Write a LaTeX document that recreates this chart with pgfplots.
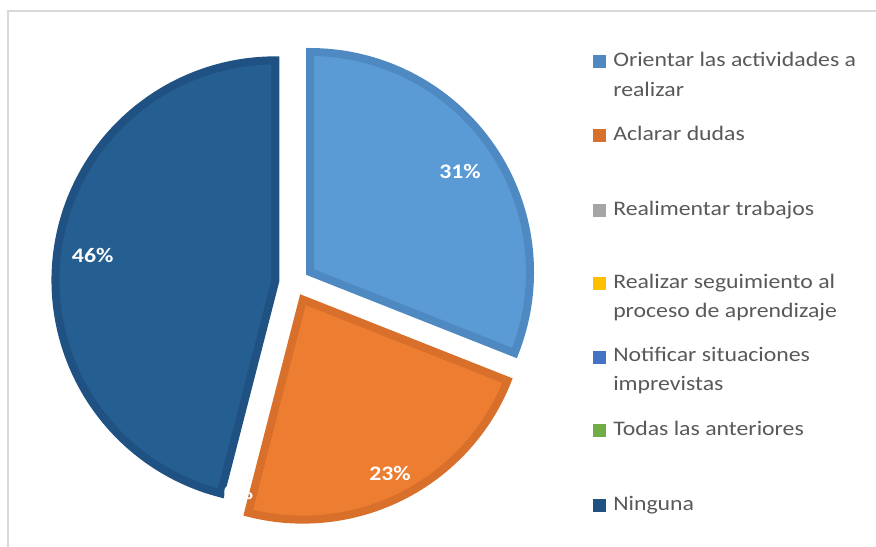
\documentclass[border=0pt]{standalone}
\usepackage{pgfplots}
\usepackage{pgfplotstable}
\pgfplotsset{compat=1.18}
\usepackage{fontspec}
\setmainfont{Carlito}[FakeStretch=1.15]
\definecolor{lbfill}{HTML}{5B9BD5}
\definecolor{lbedge}{HTML}{4F89C2}
\definecolor{orfill}{HTML}{ED7D31}
\definecolor{oredge}{HTML}{D8702C}
\definecolor{dbfill}{HTML}{255E91}
\definecolor{dbedge}{HTML}{1F5182}
\definecolor{grsw}{HTML}{A5A5A5}
\definecolor{yesw}{HTML}{FFC000}
\definecolor{blsw}{HTML}{4472C4}
\definecolor{gnsw}{HTML}{70AD47}
\definecolor{txt}{HTML}{595959}
\definecolor{frame}{HTML}{D9D9D9}

\pgfplotstableread{
label value
Orientar 31
Aclarar 23
Realimentar 0
Seguimiento 0
Notificar 0
Todas 0
Ninguna 46
}\piedata

\begin{document}
\begin{tikzpicture}
\pgfplotstablegetelem{0}{value}\of\piedata \let\vA\pgfplotsretval
\pgfplotstablegetelem{1}{value}\of\piedata \let\vB\pgfplotsretval
\pgfplotstablegetelem{6}{value}\of\piedata \let\vG\pgfplotsretval
% angles (start at 12 o'clock, clockwise)
\pgfmathsetmacro{\aA}{90-3.6*\vA}
\pgfmathsetmacro{\bA}{90}
\pgfmathsetmacro{\aB}{\aA-3.6*\vB}
\pgfmathsetmacro{\bB}{\aA}
\pgfmathsetmacro{\aG}{\aB-3.6*\vG}
\pgfmathsetmacro{\bG}{\aB}
% centre, radius, explosion (pixel units, y downwards)
\def\cx{294.3}\def\cy{282.7}\def\R{220}\def\ex{19}
\pgfmathsetmacro{\mA}{(\aA+\bA)/2}
\pgfmathsetmacro{\mB}{(\aB+\bB)/2}
\pgfmathsetmacro{\mG}{(\aG+\bG)/2}
\pgfmathsetmacro{\xA}{\cx+\ex*cos(\mA)}\pgfmathsetmacro{\yA}{\cy-\ex*sin(\mA)}
\pgfmathsetmacro{\xB}{\cx+\ex*cos(\mB)}\pgfmathsetmacro{\yB}{\cy-\ex*sin(\mB)}
\pgfmathsetmacro{\xG}{\cx+\ex*cos(\mG)}\pgfmathsetmacro{\yG}{\cy-\ex*sin(\mG)}
\begin{axis}[
  scale only axis, width=657pt, height=410.25pt,
  xmin=0, xmax=876, ymin=0, ymax=547, y dir=reverse,
  hide axis, clip=false]
% frame
\addplot[draw=frame, line width=1pt] coordinates {(8,547) (8,11) (876,11)};
% slices
\addplot[fill=lbfill, draw=lbedge, line width=6pt, domain=\aA:\bA, samples=90]
  ({\xA+\R*cos(x)}, {\yA-\R*sin(x)}) -- (axis cs:\xA,\yA) -- cycle;
\addplot[fill=orfill, draw=oredge, line width=6pt, domain=\aB:\bB, samples=90]
  ({\xB+\R*cos(x)}, {\yB-\R*sin(x)}) -- (axis cs:\xB,\yB) -- cycle;
\addplot[fill=dbfill, draw=dbedge, line width=6pt, domain=\aG:\bG, samples=120]
  ({\xG+\R*cos(x)}, {\yG-\R*sin(x)}) -- (axis cs:\xG,\yG) -- cycle;
% data labels
\begin{scope}[every node/.style={text=white, font=\fontsize{15.5}{18}\bfseries\selectfont}]
\node at (axis cs:460,171) {\vA\%};
\node at (axis cs:390,473) {\vB\%};
\node at (axis cs:92.7,255) {\vG\%};
\node[anchor=east] at (axis cs:258,492) {0\%};
\end{scope}
% legend
\begin{scope}[every node/.style={text=txt, anchor=base west, inner sep=0pt, font=\fontsize{15.5}{18}\selectfont}]
\fill[lbedge] (axis cs:593,55) rectangle (axis cs:606,68);
\node at (axis cs:613,66.7) {Orientar las actividades a};
\node at (axis cs:613,96) {realizar};
\fill[oredge] (axis cs:593,128.5) rectangle (axis cs:606,141.5);
\node at (axis cs:613,140) {Aclarar dudas};
\fill[grsw] (axis cs:593,203.5) rectangle (axis cs:606,216.5);
\node at (axis cs:613,215) {Realimentar trabajos};
\fill[yesw] (axis cs:593,277) rectangle (axis cs:606,290);
\node at (axis cs:613,288.3) {Realizar seguimiento al};
\node at (axis cs:613,317.3) {proceso de aprendizaje};
\fill[blsw] (axis cs:593,350.5) rectangle (axis cs:606,363.5);
\node at (axis cs:613,361.7) {Notificar situaciones};
\node at (axis cs:613,390.7) {imprevistas};
\fill[gnsw] (axis cs:593,424) rectangle (axis cs:606,437);
\node at (axis cs:613,435) {Todas las anteriores};
\fill[dbedge] (axis cs:593,499) rectangle (axis cs:606,512);
\node at (axis cs:613,510) {Ninguna};
\end{scope}
\end{axis}
\pgfresetboundingbox
\useasboundingbox (0,0) rectangle (657pt,410.25pt);
\end{tikzpicture}
\end{document}
